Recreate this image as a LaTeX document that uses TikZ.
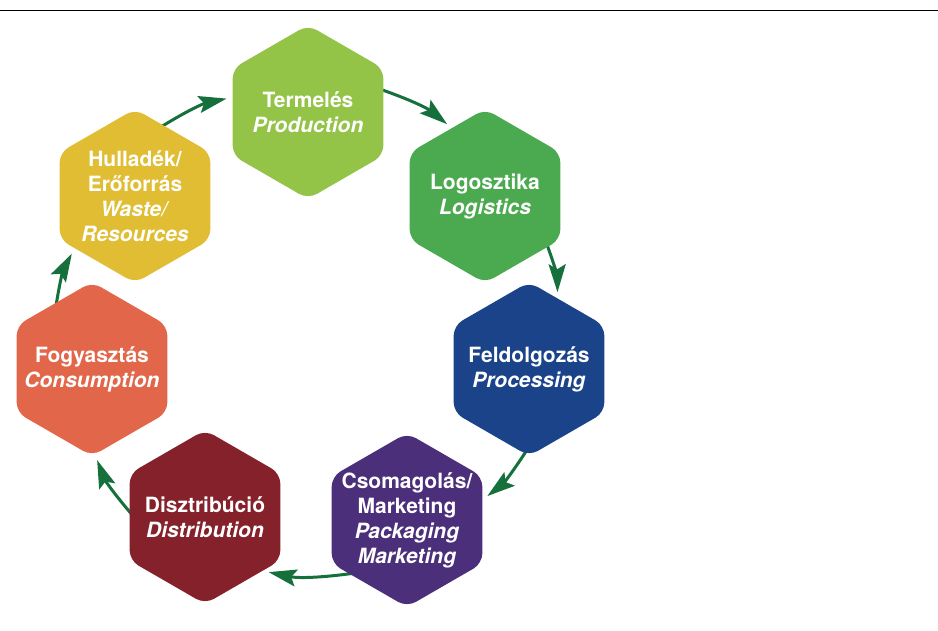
\documentclass[tikz,border=0pt]{standalone}
\usepackage{fontspec}
\setmainfont{TeX Gyre Heros}
\usetikzlibrary{shapes.geometric, arrows.meta, backgrounds}

\definecolor{termeles}{HTML}{93C347}
\definecolor{logisztika}{HTML}{4BAA4F}
\definecolor{feldolgozas}{HTML}{1B4389}
\definecolor{csomagolas}{HTML}{4C2F7B}
\definecolor{disztribucio}{HTML}{85212A}
\definecolor{fogyasztas}{HTML}{E2674A}
\definecolor{hulladek}{HTML}{E1BD34}
\definecolor{nyilzold}{HTML}{16703C}

\tikzset{
	every node/.style={
		font=\bfseries\fontsize{21}{25}\selectfont
	},
	hexa/.style={
		shape=regular polygon,
		regular polygon sides=6,
		shape border rotate=30,
		minimum size=174pt,
		inner sep=0pt,
		rounded corners=10pt,
	},
	felirat/.style={
		text=white,
		align=center
	},
	nyil/.style={
		line width=3pt,
		color=nyilzold,
		shorten <=-8pt,
		shorten >=6pt,
		arrows={-Stealth[length=28pt,width=17pt,inset=5pt]}
	},
}

\begin{document}
\begin{tikzpicture}[x=1pt,y=-1pt]
	\useasboundingbox (0,0) rectangle (938,630);
	
	\draw[line width=1.8pt] (0,10.5) -- (938,10.5);
	
	% a lanc hat hatszoge
	\node[hexa, fill=termeles, label={[felirat]center:{Termelés\\\textit{Production}}}] (prod) at (308,112) {};
	\node[hexa, fill=logisztika, label={[felirat]center:{Logosztika\\\textit{Logistics}}}] (logi) at (485,196) {};
	\node[hexa, fill=feldolgozas, label={[felirat]center:{Feldolgozás\\\textit{Processing}}}] (proc) at (529,369) {};
	\node[hexa, fill=csomagolas, label={[felirat]center:{Csomagolás/\\Marketing\\\textit{Packaging}\\\textit{Marketing}}}] (pack) at (407,520) {};
	\node[hexa, fill=disztribucio, label={[felirat]center:{Disztribúció\\\textit{Distribution}}}] (dist) at (205,517) {};
	\node[hexa, fill=fogyasztas, label={[felirat]center:{Fogyasztás\\\textit{Consumption}}}] (cons) at (92,369) {};
	\node[hexa, fill=hulladek, label={[felirat]center:{Hulladék/\\Erőforrás\\\textit{Waste/}\\\textit{Resources}}}] (waste) at (135,196) {};
	
	% korbe mutato nyilak, a hatszogek moge
	\begin{scope}[on background layer]
		\foreach \a/\ki/\b/\be in {prod/16/logi/116, logi/-39/proc/68, proc/-93/pack/15, pack/-137/dist/-43, dist/176/cons/-88, cons/118/waste/-139, waste/68/prod/169} {
			\draw[nyil] (\a.\ki) to[bend left=10] (\b.\be);
		}
	\end{scope}
	
\end{tikzpicture}
\end{document}
